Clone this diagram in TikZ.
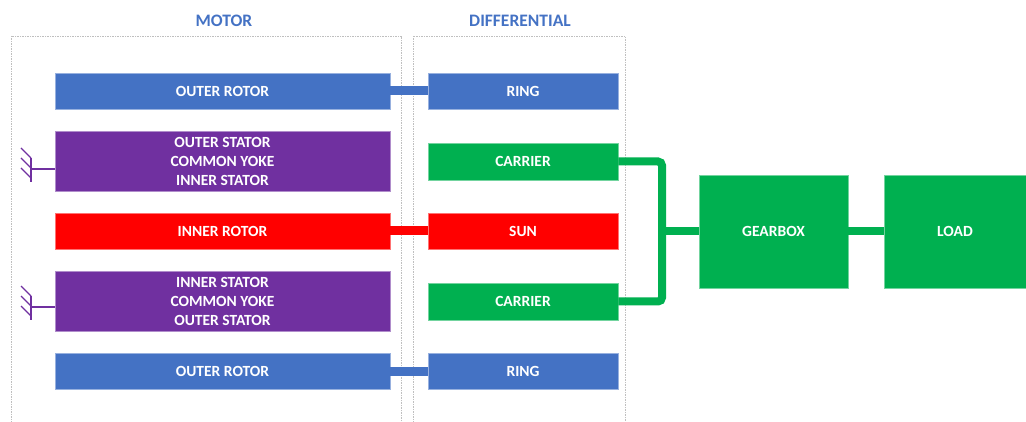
\documentclass[tikz,border=0pt]{standalone}
\usepackage{fontspec}
\setmainfont{Carlito}
\definecolor{cblue}{HTML}{4472C4}
\definecolor{cpurple}{HTML}{7030A0}
\definecolor{cred}{HTML}{FF0000}
\definecolor{cgreen}{HTML}{00B050}
\definecolor{cgray}{HTML}{BFBFBF}
\begin{document}
\begin{tikzpicture}[x=1pt,y=-1pt,
  blk/.style={rectangle, inner sep=0pt, align=center, text=white,
    font=\fontsize{15.5}{19}\selectfont\bfseries, draw=#1!55!white, fill=#1, line width=0.6pt},
  motorblk/.style={blk=#1, minimum width=335pt},
  diffblk/.style={blk=#1, minimum width=190pt},
  frame/.style={draw=cgray, line width=0.8pt, dash pattern=on 1.5pt off 1pt},
  title/.style={text=cblue, font=\fontsize{17.5}{19}\selectfont\bfseries, inner sep=0pt},
  link/.style={line width=9pt, draw=#1},
  glink/.style={line width=8pt, draw=cgreen, rounded corners=4pt},
  gnd/.style={draw=cpurple, line width=1.4pt}
]
\useasboundingbox (0,0) rectangle (1026,422);
% frames
\draw[frame] (11,36) rectangle (401,430);
\draw[frame] (413,36) rectangle (625,430);
\node[title] (tmotor) at (224,21) {MOTOR};
\node[title] (tdiff) at (520,21) {DIFFERENTIAL};
% motor blocks
\node[motorblk=cblue, minimum height=36pt] (or1) at (222.5,91) {OUTER ROTOR};
\node[motorblk=cpurple, minimum height=60pt] (st1) at (222.5,161) {OUTER STATOR\\COMMON YOKE\\INNER STATOR};
\node[motorblk=cred, minimum height=36pt] (ir) at (222.5,231) {INNER ROTOR};
\node[motorblk=cpurple, minimum height=60pt] (st2) at (222.5,301) {INNER STATOR\\COMMON YOKE\\OUTER STATOR};
\node[motorblk=cblue, minimum height=36pt] (or2) at (222.5,371) {OUTER ROTOR};
% differential blocks
\node[diffblk=cblue, minimum height=36pt] (ring1) at (523,91) {RING};
\node[diffblk=cgreen, minimum height=37pt] (car1) at (523,161.5) {CARRIER};
\node[diffblk=cred, minimum height=36pt] (sun) at (523,231) {SUN};
\node[diffblk=cgreen, minimum height=37pt] (car2) at (523,301.5) {CARRIER};
\node[diffblk=cblue, minimum height=36pt] (ring2) at (523,371) {RING};
% gearbox and load
\node[blk=cgreen, minimum width=149pt, minimum height=113pt] (gear) at (773.5,231.5) {GEARBOX};
\node[blk=cgreen, minimum width=142pt, minimum height=113pt] (load) at (955,231.5) {LOAD};
% connectors
\draw[link=cblue] (or1.east) -- (ring1.west);
\draw[link=cred] (ir.east) -- (sun.west);
\draw[link=cblue] (or2.east) -- (ring2.west);
\coordinate (j) at (662,231.5);
\draw[glink] (car1.east) -| (j) |- (car2.east);
\draw[glink] (j) -- (gear.west);
\draw[glink] (gear.east) -- (load.west);
% grounds
\foreach \s/\y in {st1/169, st2/307} {
  \coordinate (g\s) at (31,\y);
  \draw[gnd] (g\s) -- (g\s -| \s.west);
  \draw[gnd] (31,\y-11) -- (31,\y+13);
  \foreach \k in {0,10,20} {
    \draw[gnd] (31,\y-11+\k) -- (21,\y-21+\k);
  }
}
\end{tikzpicture}
\end{document}
